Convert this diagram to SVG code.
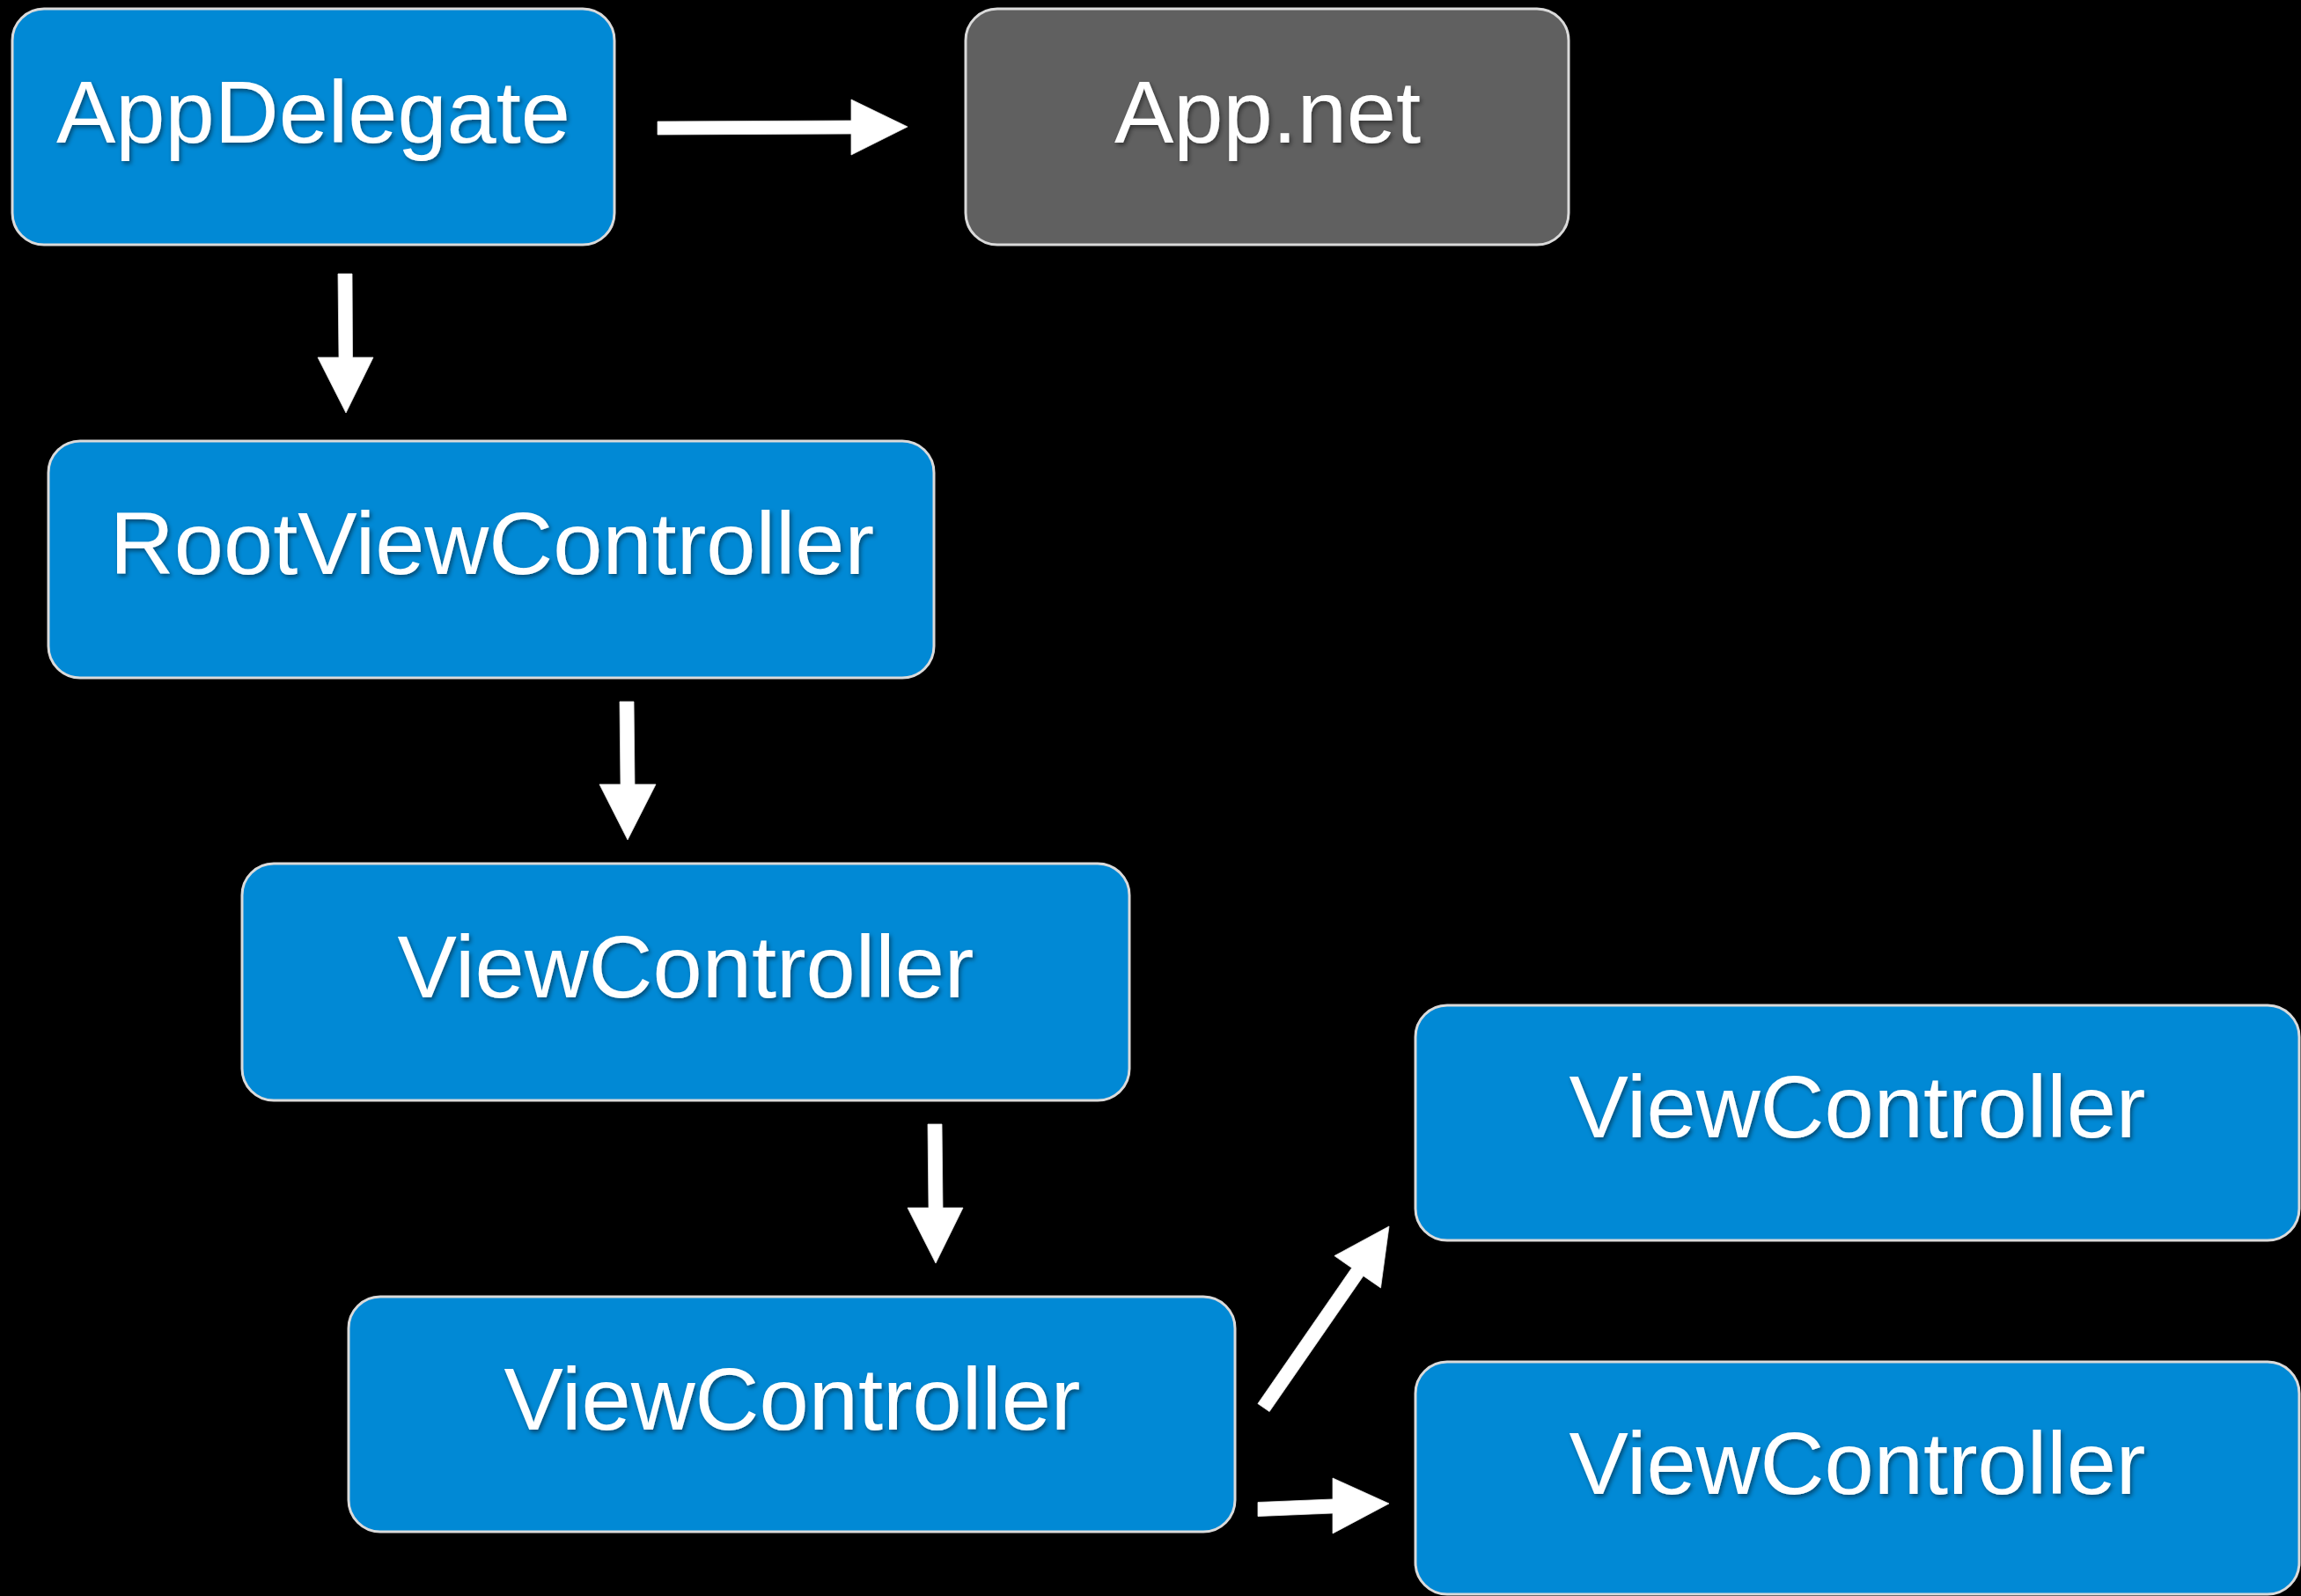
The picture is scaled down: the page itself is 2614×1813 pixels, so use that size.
<svg xmlns="http://www.w3.org/2000/svg" width="2614" height="1813" viewBox="0 0 2614 1813">
  <defs>
    <filter id="textShadow" x="-10%" y="-20%" width="120%" height="150%">
      <feDropShadow dx="2" dy="3" stdDeviation="2.5" flood-color="#000" flood-opacity="0.45"/>
    </filter>
  </defs>
  <style>
    .box { stroke: #dadada; stroke-width: 3; }
    .blue { fill: #0189d5; }
    .gray { fill: #606060; }
    .label { font-family: "Liberation Sans", Arial, sans-serif; font-size: 101px; fill: #ffffff; text-anchor: middle; filter: url(#textShadow); }
    .arrow { fill: #ffffff; stroke: #e8e8e8; stroke-width: 0.8; stroke-linejoin: miter; }
  </style>

  <rect width="2614" height="1813" fill="#000000"/>

  <!-- connectors -->
  <g id="connectors">
    <polygon class="arrow" points="747,138 967,137 967,113 1031,144 967,176 967,152 747,153"/>
    <polygon class="arrow" points="384,311 400,311 400.5,406 424,406 393,469 361,406 385,406"/>
    <polygon class="arrow" points="704,797 720,797 721,891 745,891 713,954 681,891 705,891"/>
    <polygon class="arrow" points="1054,1277 1070,1277 1071,1372 1094,1372 1063,1435 1031,1372 1055,1372"/>
    <polygon class="arrow" points="1428.9,1594.5 1535.6,1440.3 1515.9,1426.6 1578,1393 1568.5,1463 1548.8,1449.4 1442.1,1603.6"/>
    <polygon class="arrow" points="1429,1706.5 1514,1703 1514,1679 1578,1708 1514,1742 1514,1719 1429,1722.5"/>
  </g>

  <!-- nodes -->
  <g id="appDelegate">
    <rect class="box blue" x="14" y="10" width="684" height="268" rx="36" ry="36"/>
    <text class="label" x="356" y="162">AppDelegate</text>
  </g>
  <g id="appNet">
    <rect class="box gray" x="1097" y="10" width="685" height="268" rx="36" ry="36"/>
    <text class="label" x="1440" y="162">App.net</text>
  </g>
  <g id="rootViewController">
    <rect class="box blue" x="55" y="501" width="1006" height="269" rx="36" ry="36"/>
    <text class="label" x="559" y="652">RootViewController</text>
  </g>
  <g id="viewController1">
    <rect class="box blue" x="275" y="981" width="1008" height="269" rx="36" ry="36"/>
    <text class="label" x="779" y="1133">ViewController</text>
  </g>
  <g id="viewController2">
    <rect class="box blue" x="396" y="1473" width="1007" height="267" rx="36" ry="36"/>
    <text class="label" x="900" y="1624">ViewController</text>
  </g>
  <g id="viewController3">
    <rect class="box blue" x="1608" y="1142" width="1004" height="267" rx="36" ry="36"/>
    <text class="label" x="2110" y="1292">ViewController</text>
  </g>
  <g id="viewController4">
    <rect class="box blue" x="1608" y="1547" width="1004" height="264" rx="36" ry="36"/>
    <text class="label" x="2110" y="1697">ViewController</text>
  </g>
</svg>
